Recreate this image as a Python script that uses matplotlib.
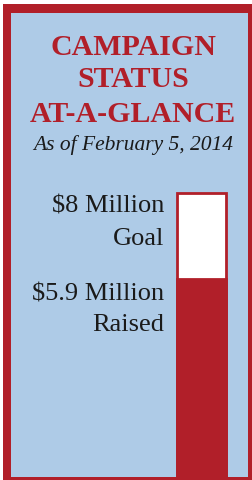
import matplotlib
matplotlib.use("Agg")
import matplotlib.pyplot as plt
from matplotlib.patches import Rectangle

# campaign numbers (millions of dollars)
goal = 8.0
raised = 5.9
title_lines = ["CAMPAIGN", "STATUS", "AT-A-GLANCE"]
subtitle = "As of February 5, 2014"
goal_label = ["$8 Million", "Goal"]
raised_label = ["$5.9 Million", "Raised"]

red = "#b11f29"
blue = "#aecbe7"

W, H = 252, 480
fig = plt.figure(figsize=(W / 100, H / 100), dpi=100)
fig.patch.set_facecolor("white")


def px(x, y):
    # pixel coords from top-left -> figure fraction
    return x / W, 1 - y / H


# red frame and blue panel (drawn under the axes)
fig.patches.append(Rectangle(px(3, 480), (W - 3) / W, 476 / H, transform=fig.transFigure,
                             facecolor=red, edgecolor="none", zorder=-2))
fig.patches.append(Rectangle(px(11, 477), (248 - 11) / W, (477 - 13) / H, transform=fig.transFigure,
                             facecolor=blue, edgecolor="none", zorder=-1))

serif = "Liberation Serif"
ys = [55, 87, 122]
for line, y in zip(title_lines, ys):
    fig.text(*px(133, y), line, ha="center", va="baseline", fontsize=21.5,
             fontweight="bold", color=red, family=serif)
fig.text(*px(133, 150), subtitle, ha="center", va="baseline", fontsize=15.5,
         style="italic", color="#1a1a1a", family=serif)

for line, y in zip(goal_label, [213, 245]):
    fig.text(*px(164, y), line, ha="right", va="baseline", fontsize=19,
             color="#1a1a1a", family=serif)
for line, y in zip(raised_label, [300, 331]):
    fig.text(*px(164, y), line, ha="right", va="baseline", fontsize=19,
             color="#1a1a1a", family=serif)

# thermometer bar
ax = fig.add_axes([176.5 / W, 3 / H, 50 / W, (477 - 193) / H])
ax.set_zorder(1)
ax.bar([0], [goal], width=1.0, bottom=0, color="white", edgecolor=red,
       linewidth=2.0, clip_on=False, zorder=1)
ax.bar([0], [raised], width=1.0, bottom=0, color=red, edgecolor=red,
       linewidth=2.0, clip_on=False, zorder=2)
ax.set_xlim(-0.5, 0.5)
ax.set_ylim(1.1, goal)
ax.axis("off")

fig.savefig("out.png", dpi=100, facecolor=fig.get_facecolor())
